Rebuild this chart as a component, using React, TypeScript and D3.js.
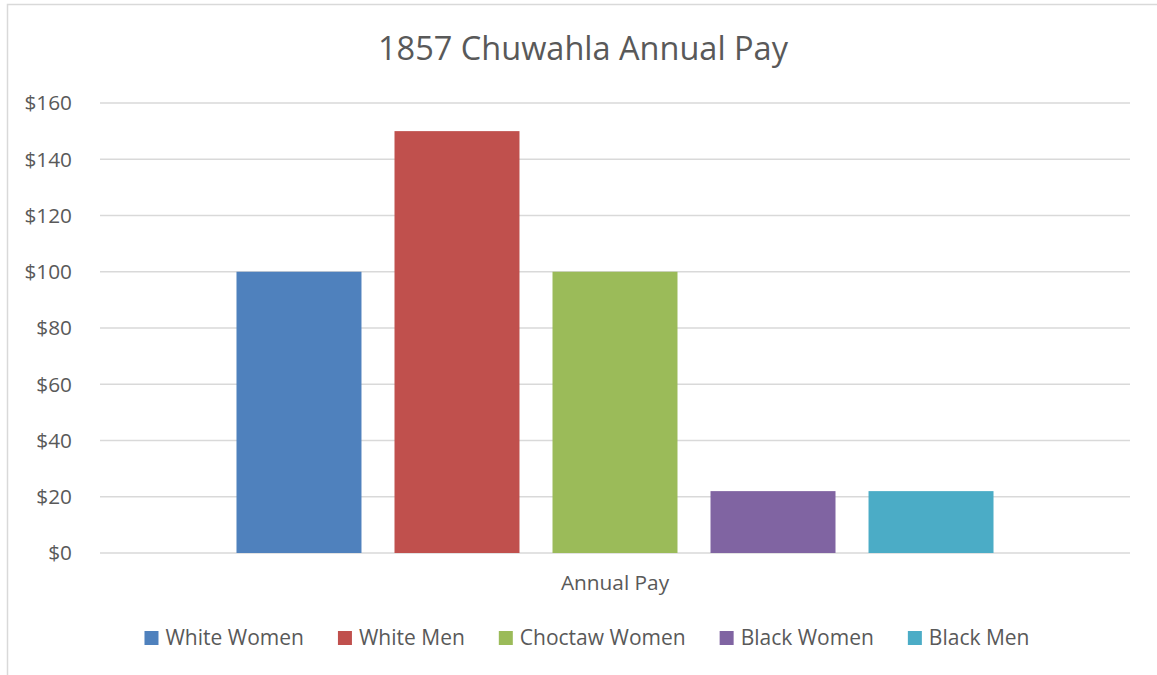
import React, { useEffect, useRef } from "react";
import * as d3 from "d3";

const category = "Annual Pay";
const seriesNames = ["White Women", "White Men", "Choctaw Women", "Black Women", "Black Men"];
const seriesValues = [100, 150, 100, 22, 22];
const seriesColors = ["#4F81BD", "#C0504D", "#9BBB59", "#8064A2", "#4BACC6"];
const yTicks = [0, 20, 40, 60, 80, 100, 120, 140, 160];
const title = "1857 Chuwahla Annual Pay";

const W = 1157;
const H = 675;
const FONT = "'Open Sans', Lato, sans-serif";
const TEXT = "#595959";

export default function App() {
  const legendRef = useRef<SVGGElement>(null);

  const plotLeft = 100;
  const plotRight = 1130;
  const plotTop = 103;
  const plotBottom = 553;

  const y = d3.scaleLinear().domain([0, 160]).range([plotBottom, plotTop]);
  const xCat = d3.scaleBand().domain([category]).range([plotLeft, plotRight]).paddingInner(0).paddingOuter(0.1803);
  const xSeries = d3
    .scaleBand()
    .domain(seriesNames)
    .range([xCat(category)!, xCat(category)! + xCat.bandwidth()])
    .paddingInner(0.209)
    .paddingOuter(0);

  useEffect(() => {
    const g = d3.select(legendRef.current);
    if (!g.node()) return;
    const items = g.selectAll<SVGGElement, unknown>("g.item").nodes();
    const widths = items.map((n) => {
      const t = n.querySelector("text") as SVGTextElement;
      return 14 + 7 + t.getComputedTextLength();
    });
    const gap = 34;
    const total = d3.sum(widths) + gap * (widths.length - 1);
    let x = 587 - total / 2;
    items.forEach((n, i) => {
      n.setAttribute("transform", `translate(${x},0)`);
      x += widths[i] + gap;
    });
  }, []);

  return (
    <svg width={W} height={H} style={{ position: "absolute", left: 0, top: 0, background: "#fff" }}>
      <rect x={7.5} y={4.5} width={1160} height={680} fill="#fff" stroke="#d9d9d9" strokeWidth={1.5} />
      <text x={583} y={60} textAnchor="middle" fontFamily={FONT} fontSize={32.5} fill={TEXT}>
        {title}
      </text>
      {yTicks.map((t) => (
        <g key={t}>
          <line x1={plotLeft} x2={plotRight} y1={y(t)} y2={y(t)} stroke="#d9d9d9" strokeWidth={1.5} />
          <text x={72} y={y(t)} dy="0.35em" textAnchor="end" fontFamily={FONT} fontSize={20.8} fill={TEXT}>
            {d3.format("$,")(t)}
          </text>
        </g>
      ))}
      {seriesNames.map((s, i) => (
        <rect
          key={s}
          x={xSeries(s)}
          width={xSeries.bandwidth()}
          y={y(seriesValues[i])}
          height={y(0) - y(seriesValues[i])}
          fill={seriesColors[i]}
        />
      ))}
      <text x={(plotLeft + plotRight) / 2} y={583} dy="0.35em" textAnchor="middle" fontFamily={FONT} fontSize={20.8} fill={TEXT}>
        {category}
      </text>
      <g ref={legendRef} transform="translate(0,638)">
        {seriesNames.map((s, i) => (
          <g className="item" key={s}>
            <rect x={0} y={-7} width={14} height={14} fill={seriesColors[i]} />
            <text x={21} y={0} dy="0.35em" fontFamily={FONT} fontSize={21} fill={TEXT}>
              {s}
            </text>
          </g>
        ))}
      </g>
    </svg>
  );
}
